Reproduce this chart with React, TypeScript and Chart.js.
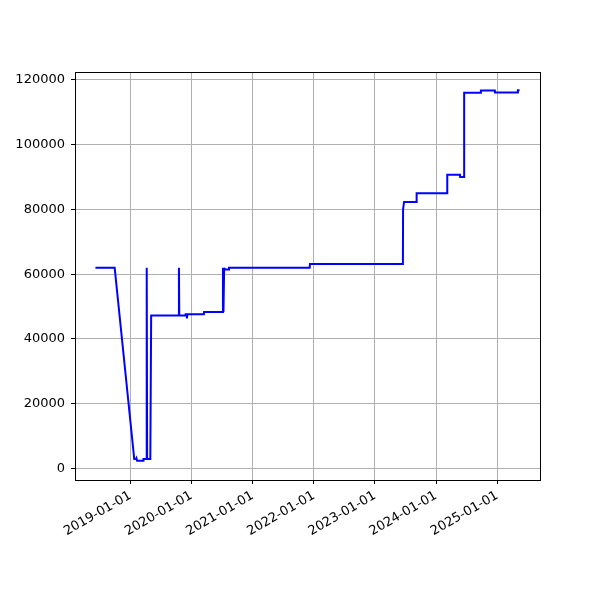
import React, { useEffect, useRef } from "react";
import { Chart, registerables } from "chart.js";

Chart.register(...registerables);

const dates: string[] = [
  "2018-06-06", "2018-09-29", "2019-01-24", "2019-02-03", "2019-02-06", "2019-02-10",
  "2019-03-18", "2019-03-20", "2019-04-06", "2019-04-07", "2019-04-10", "2019-04-11",
  "2019-04-30", "2019-05-05", "2019-10-17", "2019-10-18", "2019-10-20", "2019-11-26",
  "2019-11-27", "2019-12-04", "2019-12-05", "2019-12-07", "2020-03-15", "2020-03-16",
  "2020-07-06", "2020-07-07", "2020-07-10", "2020-07-13", "2020-07-14", "2020-07-16",
  "2020-08-11", "2020-08-12", "2021-12-07", "2021-12-09", "2023-06-17", "2023-06-18",
  "2023-06-22", "2023-06-24", "2023-09-06", "2023-09-07", "2024-03-07", "2024-03-08",
  "2024-05-23", "2024-05-24", "2024-06-16", "2024-06-17", "2024-09-24", "2024-09-25",
  "2024-12-17", "2024-12-18", "2025-05-03", "2025-05-04", "2025-05-14",
];

const values: number[] = [
  62000, 62000, 2900, 2900, 3200, 2400,
  2400, 2900, 2900, 62000, 62000, 2900,
  2900, 47200, 47200, 62000, 47200, 47200,
  47600, 47600, 46300, 47600, 47600, 48300,
  48300, 62000, 48300, 48300, 62000, 61400,
  61400, 62000, 62000, 63150, 63150, 80000,
  80000, 82300, 82300, 85000, 85000, 90700,
  90700, 90000, 90000, 116000, 116000, 116700,
  116700, 116100, 116100, 116800, 116800,
];

const xTickLabels: string[] = [
  "2019-01-01", "2020-01-01", "2021-01-01", "2022-01-01",
  "2023-01-01", "2024-01-01", "2025-01-01",
];
const yTickValues: number[] = [0, 20000, 40000, 60000, 80000, 100000, 120000];

const xMinDate = "2018-02-04";
const xMaxDate = "2025-09-13";
const yMin = -3550;
const yMax = 122400;

const toTs = (s: string) => Date.parse(s + "T00:00:00Z");

const framePlugin = {
  id: "frame",
  afterDatasetsDraw(chart: any) {
    const { ctx, chartArea } = chart;
    ctx.save();
    ctx.strokeStyle = "#000";
    ctx.lineWidth = 1;
    ctx.strokeRect(
      Math.round(chartArea.left) + 0.5,
      Math.round(chartArea.top) + 0.5,
      Math.round(chartArea.right - chartArea.left),
      Math.round(chartArea.bottom - chartArea.top)
    );
    ctx.restore();
  },
};

export default function App() {
  const ref = useRef<HTMLCanvasElement | null>(null);
  useEffect(() => {
    if (!ref.current) return;
    const data = dates.map((d, i) => ({ x: toTs(d), y: values[i] }));
    const font = { family: "DejaVu Sans", size: 13 };
    const chart = new Chart(ref.current, {
      type: "line",
      data: {
        datasets: [
          {
            data,
            borderColor: "#0000ff",
            borderWidth: 2,
            pointRadius: 0,
            tension: 0,
            fill: false,
          },
        ],
      },
      options: {
        animation: false,
        responsive: false,
        devicePixelRatio: 1,
        parsing: false,
        layout: { padding: { left: 0, right: 60, top: 72, bottom: 0 } },
        plugins: { legend: { display: false }, tooltip: { enabled: false } },
        scales: {
          x: {
            type: "linear",
            min: toTs(xMinDate),
            max: toTs(xMaxDate),
            afterFit: (s: any) => {
              s.height = 120;
            },
            afterBuildTicks: (s: any) => {
              s.ticks = xTickLabels.map((l) => ({ value: toTs(l) }));
            },
            border: { display: false },
            grid: {
              color: "#b0b0b0",
              lineWidth: 1,
              tickColor: "#000",
              tickLength: 4,
              tickWidth: 1,
            },
            ticks: {
              font,
              color: "#000",
              maxRotation: 30,
              minRotation: 30,
              autoSkip: false,
              padding: 4,
              callback: (v: any) => new Date(v).toISOString().slice(0, 10),
            },
          },
          y: {
            type: "linear",
            min: yMin,
            max: yMax,
            afterFit: (s: any) => {
              s.width = 75;
            },
            afterBuildTicks: (s: any) => {
              s.ticks = yTickValues.map((v) => ({ value: v }));
            },
            border: { display: false },
            grid: {
              color: "#b0b0b0",
              lineWidth: 1,
              tickColor: "#000",
              tickLength: 4,
              tickWidth: 1,
            },
            ticks: {
              font,
              color: "#000",
              padding: 6,
              callback: (v: any) => String(v),
            },
          },
        },
      },
      plugins: [framePlugin],
    } as any);
    return () => chart.destroy();
  }, []);
  return (
    <div style={{ position: "absolute", left: 0, top: 0, width: 600, height: 600, background: "#fff" }}>
      <canvas ref={ref} width={600} height={600} />
    </div>
  );
}
